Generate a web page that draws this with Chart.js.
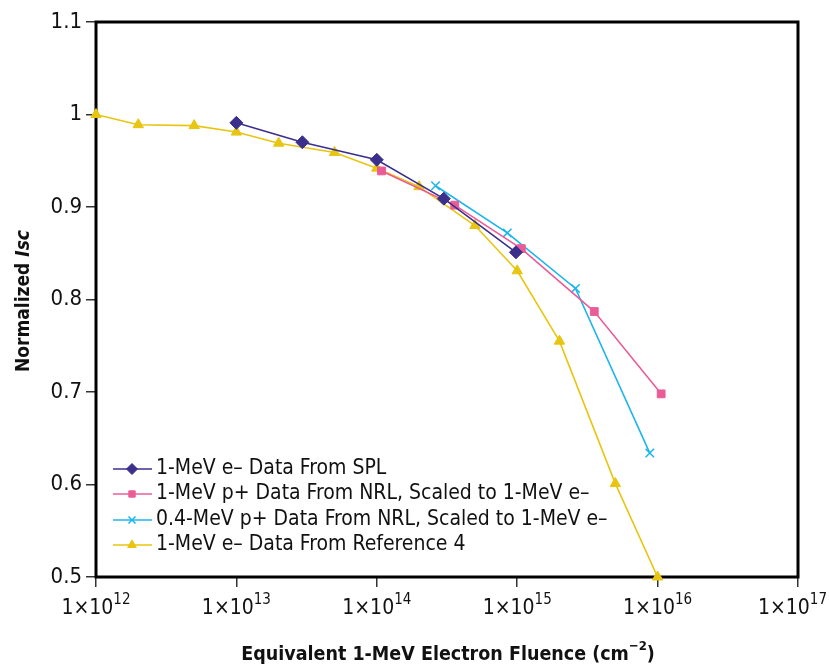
<!DOCTYPE html>
<html>
<head>
<meta charset="utf-8">
<script src="https://cdn.jsdelivr.net/npm/chart.js@4.4.1/dist/chart.umd.min.js"></script>
<style>
  body { margin: 0; background: #fff; }
  canvas { display: block; }
</style>
</head>
<body>
<canvas id="isc-chart" width="829" height="667"></canvas>
<script>
// series (fluence in cm^-2, normalized Isc)
var splFluence = [1e13, 2.95e13, 1e14, 3e14, 9.8e14];
var splIsc = [0.991, 0.970, 0.951, 0.909, 0.851];

var nrlFluence = [1.08e14, 3.59e14, 1.07e15, 3.54e15, 1.06e16];
var nrlIsc = [0.939, 0.902, 0.855, 0.787, 0.698];

var nrl04Fluence = [2.62e14, 8.5e14, 2.6e15, 8.8e15];
var nrl04Isc = [0.923, 0.872, 0.812, 0.634];

var refFluence = [1e12, 2e12, 5e12, 1e13, 2e13, 5e13, 1e14, 2e14, 5e14, 1e15, 2e15, 5e15, 1e16];
var refIsc = [1.0, 0.989, 0.988, 0.981, 0.969, 0.959, 0.942, 0.922, 0.880, 0.831, 0.755, 0.601, 0.5];

var seriesNames = [
  "1-MeV e\u2013 Data From SPL",
  "1-MeV p+ Data From NRL, Scaled to 1-MeV e\u2013",
  "0.4-MeV p+ Data From NRL, Scaled to 1-MeV e\u2013",
  "1-MeV e\u2013 Data From Reference 4"
];
var xTickExps = [12, 13, 14, 15, 16, 17];
var yTicks = [0.5, 0.6, 0.7, 0.8, 0.9, 1.0, 1.1];

var FONT = '"Liberation Sans Narrow", "DejaVu Sans Condensed", "Arial Narrow", sans-serif';

function pts(xs, ys) {
  return xs.map(function (x, i) { return { x: x, y: ys[i] }; });
}

function series(label, xs, ys, color, style, r) {
  return {
    label: label,
    data: pts(xs, ys),
    borderColor: color,
    backgroundColor: color,
    pointBorderColor: color,
    pointBackgroundColor: color,
    pointStyle: style,
    pointRadius: r,
    pointBorderWidth: style == 'crossRot' ? 1.5 : 1,
    borderWidth: 1.6,
    showLine: true,
    tension: 0,
    clip: false
  };
}

// frame round the plot area
var framePlugin = {
  id: 'frame',
  beforeDatasetsDraw: function (chart) {
    var a = chart.chartArea, ctx = chart.ctx;
    ctx.save();
    ctx.strokeStyle = '#000';
    ctx.lineWidth = 3;
    ctx.strokeRect(a.left, a.top, a.right - a.left, a.bottom - a.top);
    ctx.restore();
  }
};

// x tick labels with superscripts, axis titles, legend inside plot
var textPlugin = {
  id: 'texts',
  afterDraw: function (chart) {
    var ctx = chart.ctx, xs = chart.scales.x, a = chart.chartArea;
    ctx.save();
    ctx.fillStyle = '#111';
    ctx.textBaseline = 'alphabetic';
    ctx.textAlign = 'left';

    // x tick labels
    xTickExps.forEach(function (e) {
      var px = xs.getPixelForValue(Math.pow(10, e));
      ctx.font = '21px ' + FONT;
      var base = '1\u00d710';
      var w1 = ctx.measureText(base).width;
      ctx.font = '15px ' + FONT;
      var w2 = ctx.measureText(String(e)).width;
      var x0 = Math.min(px - (w1 + w2) / 2, 827 - w1 - w2);
      ctx.font = '21px ' + FONT;
      ctx.fillText(base, x0, 614);
      ctx.font = '15px ' + FONT;
      ctx.fillText(String(e), x0 + w1, 604);
    });

    // x title
    var t1 = 'Equivalent 1-MeV Electron Fluence (cm', t2 = '\u22122', t3 = ')';
    ctx.font = 'bold 19.5px ' + FONT;
    var a1 = ctx.measureText(t1).width, a3 = ctx.measureText(t3).width;
    ctx.font = 'bold 13px ' + FONT;
    var a2 = ctx.measureText(t2).width;
    var tx = 448 - (a1 + a2 + a3) / 2;
    ctx.font = 'bold 19.5px ' + FONT;
    ctx.fillText(t1, tx, 660);
    ctx.font = 'bold 13px ' + FONT;
    ctx.fillText(t2, tx + a1, 650);
    ctx.font = 'bold 19.5px ' + FONT;
    ctx.fillText(t3, tx + a1 + a2, 660);

    // y title, rotated
    ctx.save();
    ctx.translate(29, 301);
    ctx.rotate(-Math.PI / 2);
    ctx.font = 'bold 19px ' + FONT;
    var n1 = 'Normalized ', b1 = ctx.measureText(n1).width;
    ctx.font = 'italic bold 19px ' + FONT;
    var b2 = ctx.measureText('Isc').width;
    ctx.font = 'bold 19px ' + FONT;
    ctx.fillText(n1, -(b1 + b2) / 2, 0);
    ctx.font = 'italic bold 19px ' + FONT;
    ctx.fillText('Isc', -(b1 + b2) / 2 + b1, 0);
    ctx.restore();

    // legend
    var rowY = [469, 494, 520, 545];
    chart.data.datasets.forEach(function (ds, i) {
      var y = rowY[i];
      ctx.strokeStyle = ds.borderColor;
      ctx.lineWidth = 1.6;
      ctx.beginPath();
      ctx.moveTo(a.left + 17, y);
      ctx.lineTo(a.left + 56, y);
      ctx.stroke();
      ctx.fillStyle = ds.borderColor;
      ctx.lineWidth = ds.pointBorderWidth;
      Chart.helpers.drawPoint(ctx, { pointStyle: ds.pointStyle, radius: ds.pointRadius - 1, borderWidth: ds.pointBorderWidth, rotation: 0 }, a.left + 36, y);
      ctx.fillStyle = '#111';
      ctx.font = '21px ' + FONT;
      ctx.textBaseline = 'middle';
      ctx.fillText(ds.label, a.left + 60, y);
      ctx.textBaseline = 'alphabetic';
    });
    ctx.restore();
  }
};

var chart = new Chart(document.getElementById('isc-chart'), {
  type: 'scatter',
  data: {
    datasets: [
      series(seriesNames[0], splFluence, splIsc, '#3b2f8c', 'rectRot', 6.5),
      series(seriesNames[1], nrlFluence, nrlIsc, '#ea5c97', 'rect', 5.5),
      series(seriesNames[2], nrl04Fluence, nrl04Isc, '#1cb5ec', 'crossRot', 6),
      series(seriesNames[3], refFluence, refIsc, '#e8c510', 'triangle', 6)
    ]
  },
  options: {
    responsive: false,
    animation: false,
    devicePixelRatio: 1,
    layout: { padding: { top: 22, right: 31, left: 0, bottom: 0 } },
    plugins: { legend: { display: false }, tooltip: { enabled: false } },
    scales: {
      x: {
        type: 'logarithmic',
        min: 1e12,
        max: 1e17,
        afterBuildTicks: function (s) {
          s.ticks = xTickExps.map(function (e) { return { value: Math.pow(10, e), major: true }; });
        },
        afterFit: function (s) { s.height = 90; },
        ticks: { display: false },
        border: { display: false },
        grid: { drawOnChartArea: false, drawTicks: true, tickLength: 10, color: '#333', lineWidth: 1.5 }
      },
      y: {
        min: 0.5,
        max: 1.1,
        afterBuildTicks: function (s) {
          s.ticks = yTicks.map(function (v) { return { value: v }; });
        },
        afterFit: function (s) { s.width = 96; },
        ticks: {
          padding: 4,
          color: '#111',
          font: { family: FONT, size: 22 },
          callback: function (v) { return Math.abs(v - 1) < 1e-9 ? '1' : v.toFixed(1); }
        },
        border: { display: false },
        grid: { drawOnChartArea: false, drawTicks: true, tickLength: 10, color: '#333', lineWidth: 1.5 }
      }
    }
  },
  plugins: [framePlugin, textPlugin]
});
</script>
</body>
</html>
